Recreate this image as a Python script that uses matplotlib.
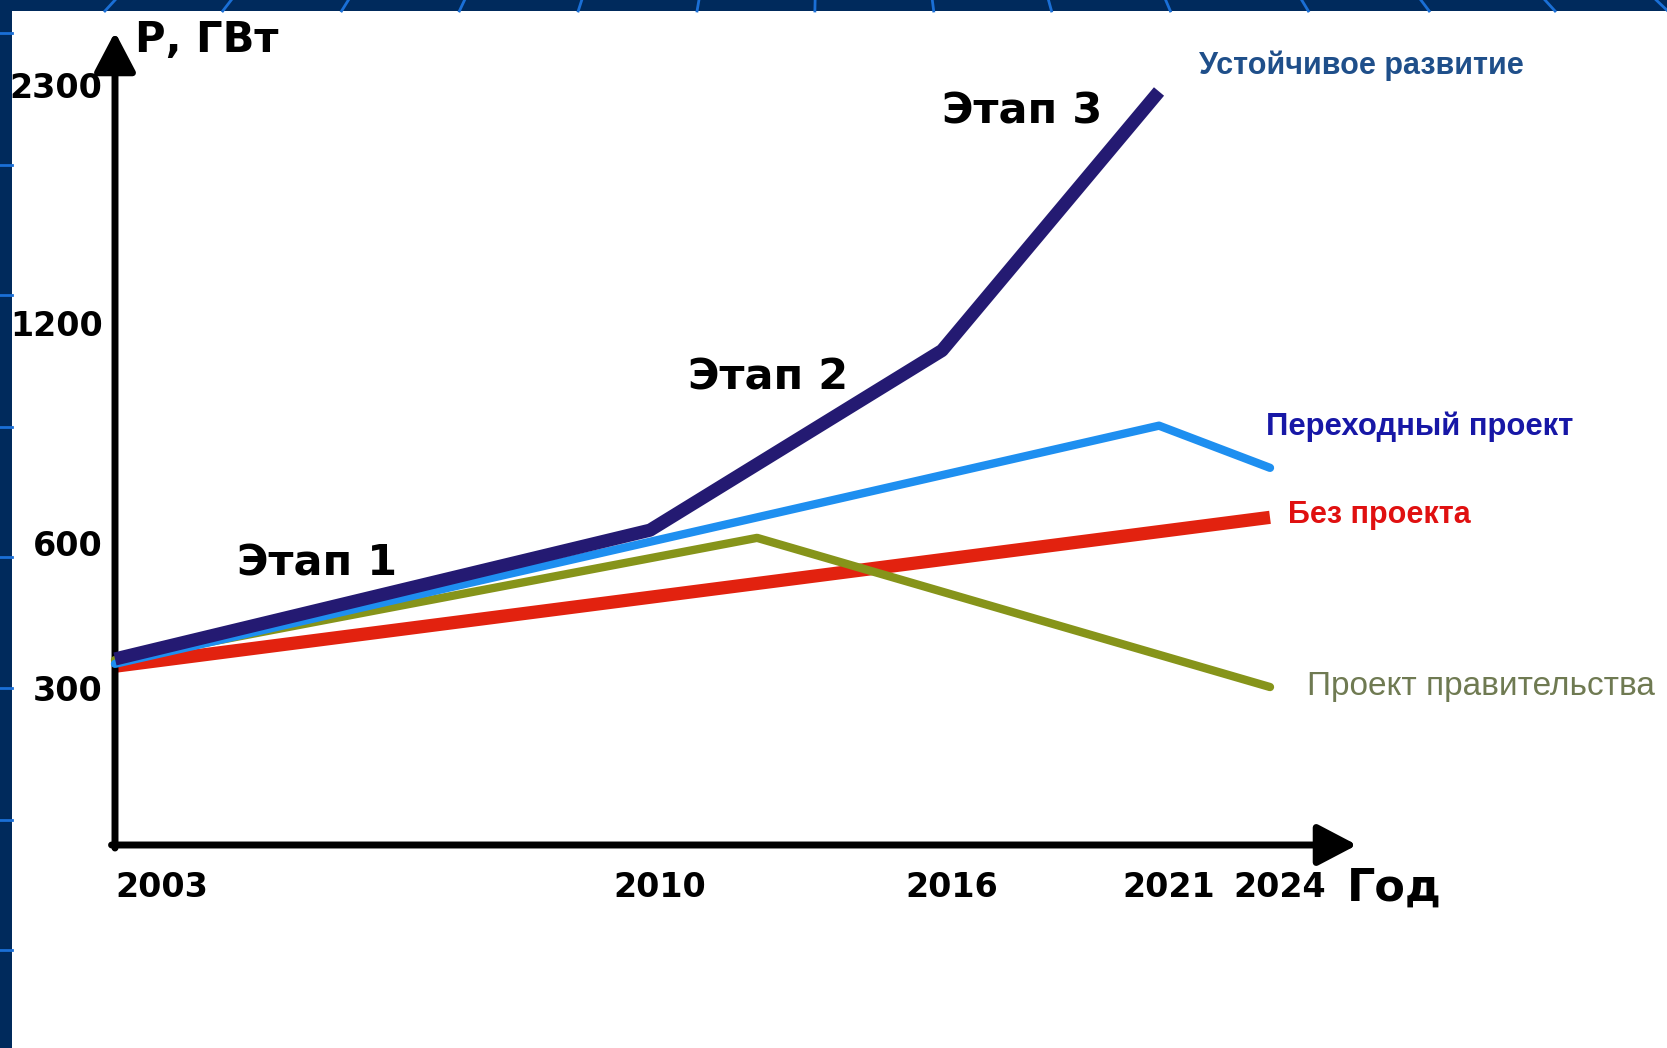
import numpy as np
import matplotlib
matplotlib.use('Agg')
import matplotlib.pyplot as plt
from matplotlib.lines import Line2D
from matplotlib.patches import Rectangle
from matplotlib.transforms import ScaledTranslation

W, H = 1667, 1048

# --- данные (год, ГВт) ---
years_sustain = [2003, 2010, 2016, 2021]
p_sustain = [360, 635, 1125, 2270]

years_transit = [2003, 2021, 2024]
p_transit = [350, 920, 805]

years_none = [2003, 2024]
p_none = [345, 670]

years_gov = [2003, 2012.2, 2024]
p_gov = [358, 614, 302]

x_ticks = [2003, 2010, 2016, 2021, 2024]
y_ticks = [300, 600, 1200, 2300]

# оси нарисованы "от руки" и нелинейны: положения делений в пикселях от начала координат
OX, OY = 115, 845
X_KNOTS = [2003, 2010, 2016, 2021, 2024]
X_PX = [0, 535, 827, 1044, 1155]
Y_KNOTS = [0, 300, 600, 1200, 2300]
Y_PX = [0, 157, 302, 522, 760]

C_NAVY = '#241a72'
C_BLUE = '#1e8ff0'
C_RED = '#e2220f'
C_OLIVE = '#86941a'
BG = '#002a5c'
GRID = '#1a6fd6'


def px(x, y):
    return x / W, 1 - y / H


fig = plt.figure(figsize=(W / 100, H / 100), dpi=100, facecolor=BG)

# фон слайда: белое поле и синяя рамка с линиями
fig.patches.append(Rectangle(px(12, H), (W - 12) / W, (H - 11) / H,
                             transform=fig.transFigure, facecolor='white',
                             edgecolor='none', zorder=-5))
for x in [110, 227, 345, 462, 580, 698, 815, 933, 1050, 1168, 1305, 1425, 1550, 1662]:
    dx = (833 - x) * 0.007
    fig.add_artist(Line2D([(x - dx) / W, (x + dx) / W], [1 - 11 / H, 1.0],
                          transform=fig.transFigure, color=GRID, lw=2, zorder=-4))
for y in [33, 165, 295, 427, 557, 688, 820, 950]:
    fig.add_artist(Line2D([0, 12 / W], [1 - y / H, 1 - y / H],
                          transform=fig.transFigure, color=GRID, lw=2, zorder=-4))

ax = fig.add_axes([OX / W, (H - OY) / H, X_PX[-1] / W, Y_PX[-1] / H])
ax.patch.set_visible(False)
ax.set_xscale('function', functions=(lambda v: np.interp(v, X_KNOTS, X_PX),
                                     lambda v: np.interp(v, X_PX, X_KNOTS)))
ax.set_yscale('function', functions=(lambda v: np.interp(v, Y_KNOTS, Y_PX),
                                     lambda v: np.interp(v, Y_PX, Y_KNOTS)))
ax.set_xlim(2003, 2024)
ax.set_ylim(0, 2300)

ax.plot(years_none, p_none, color=C_RED, lw=9.5, solid_capstyle='butt', clip_on=False, zorder=3)
ax.plot(years_gov, p_gov, color=C_OLIVE, lw=6, solid_capstyle='round', clip_on=False, zorder=4)
ax.plot(years_transit, p_transit, color=C_BLUE, lw=6, solid_capstyle='round', clip_on=False, zorder=5)
ax.plot(years_sustain, p_sustain, color=C_NAVY, lw=9.5, solid_capstyle='butt', clip_on=False, zorder=6)

for s in ax.spines.values():
    s.set_visible(False)

tick_font = dict(family='DejaVu Sans', weight='bold', size=24)
ax.set_xticks(x_ticks)
ax.set_xticklabels([str(y) for y in x_ticks], **tick_font)
ax.set_yticks(y_ticks)
ax.set_yticklabels([str(v) for v in y_ticks], **tick_font)
ax.minorticks_off()
ax.tick_params(length=0)
ax.tick_params(axis='x', pad=19)
ax.tick_params(axis='y', pad=9)
# подписи годов в оригинале чуть правее изломов
shift = ScaledTranslation(10 / 100, 0, fig.dpi_scale_trans)
for i, lbl in enumerate(ax.get_xticklabels()):
    if i == 0:
        lbl.set_ha('left')
    else:
        lbl.set_transform(lbl.get_transform() + shift)

# стрелки осей
arrow = dict(arrowstyle='-|>,head_length=0.8,head_width=0.42', lw=5,
             color='black', mutation_scale=30, shrinkA=0, shrinkB=0)
ax.annotate('', xy=(0, (OY - 32) / Y_PX[-1]), xytext=(0, -0.004), xycoords='axes fraction',
            arrowprops=arrow, annotation_clip=False)
ax.annotate('', xy=((1357 - OX) / X_PX[-1], 0), xytext=(-0.003, 0), xycoords='axes fraction',
            arrowprops=arrow, annotation_clip=False)

fig.text(*px(135, 40), 'Р, ГВт', fontsize=30, weight='bold', ha='left', va='center')
fig.text(*px(1347, 888), 'Год', fontsize=32, weight='bold', ha='left', va='center')

stage_font = dict(fontsize=31, weight='bold', ha='center', va='center')
fig.text(*px(317, 563), 'Этап 1', **stage_font)
fig.text(*px(768, 377), 'Этап 2', **stage_font)
fig.text(*px(1022, 112), 'Этап 3', **stage_font)

lab = dict(textcoords='offset pixels', ha='left', va='center',
           family='Liberation Sans', annotation_clip=False)
ax.annotate('Устойчивое развитие', (years_sustain[-1], p_sustain[-1]), xytext=(40, 26),
            color='#1f4f8a', fontsize=22, weight='bold', **lab)
ax.annotate('Переходный проект', (years_transit[-1], p_transit[-1]), xytext=(-4, 41),
            color='#1717a6', fontsize=22.3, weight='bold', **lab)
ax.annotate('Без проекта', (years_none[-1], p_none[-1]), xytext=(18, 2),
            color='#e01010', fontsize=22, weight='bold', **lab)
ax.annotate('Проект правительства', (years_gov[-1], p_gov[-1]), xytext=(37, 1),
            color='#6f7a52', fontsize=24, **lab)

fig.savefig('out.png', dpi=100, facecolor=BG)
